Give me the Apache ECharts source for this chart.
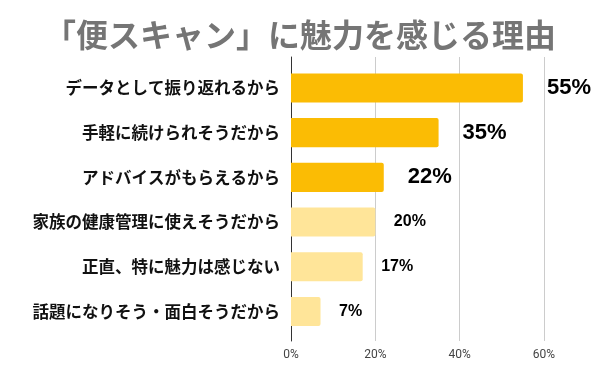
<!DOCTYPE html>
<html>
<head>
<meta charset="utf-8">
<style>html,body{margin:0;padding:0;background:#fff;}#c{width:600px;height:371px;}</style>
<script src="https://cdn.jsdelivr.net/npm/echarts@6/dist/echarts.min.js"></script>
</head>
<body>
<div id="c"></div>
<script>
const titleText = '「便スキャン」に魅力を感じる理由';
const categories = ['データとして振り返れるから','手軽に続けられそうだから','アドバイスがもらえるから','家族の健康管理に使えそうだから','正直、特に魅力は感じない','話題になりそう・面白そうだから'];
const values = [55, 35, 22, 20, 17, 7];
const highlighted = [true, true, true, false, false, false];
const xTicks = [0, 20, 40, 60];

const chart = echarts.init(document.getElementById('c'), null, {renderer:'canvas'});
const dark = '#FBBC04', light = '#FFE599';
const data = values.map((v,i)=>({
  value: v,
  itemStyle: {color: highlighted[i] ? dark : light, borderRadius: [0,2,2,0]},
  label: highlighted[i] ? {fontSize: 22, distance: 24} : {fontSize: 16, distance: 18.5}
}));
chart.setOption({
  animation: false,
  title: {
    text: titleText, left: 'center', top: 14,
    textStyle: {fontFamily: 'Noto Sans CJK JP', fontWeight: 'bold', fontSize: 32, color: '#757575'}
  },
  grid: [
    {left: 291, width: 253, top: 65.6, height: 268.2},
    {left: 291, width: 253, top: 57, height: 284}
  ],
  xAxis: [
    {gridIndex: 0, type: 'value', min: 0, max: 60, interval: 20, show: false},
    {gridIndex: 1, type: 'value', min: 0, max: 60, interval: 20,
     axisLine: {show: false}, axisTick: {show: false},
     splitLine: {show: true, lineStyle: {color: '#cccccc', width: 1}},
     axisLabel: {margin: 8, fontFamily: 'Roboto', fontSize: 12, color: '#444',
       formatter: v => xTicks.includes(v) ? v + '%' : ''}}
  ],
  yAxis: [
    {gridIndex: 0, type: 'category', data: categories, inverse: true,
     axisLine: {show: false}, axisTick: {show: false}, splitLine: {show: false},
     axisLabel: {margin: 11, fontFamily: 'Noto Sans CJK JP', fontWeight: 'bold', fontSize: 16.5, color: '#111'}},
    {gridIndex: 1, type: 'value', min: 0, max: 1,
     axisLine: {show: true, onZero: false, lineStyle: {color: '#333', width: 1}},
     axisTick: {show: false}, axisLabel: {show: false}, splitLine: {show: false}}
  ],
  series: [{
    type: 'bar', xAxisIndex: 0, yAxisIndex: 0, data: data,
    barCategoryGap: '35%',
    label: {show: true, position: 'right', formatter: '{c}%',
      fontFamily: 'Liberation Sans', fontWeight: 'bold', color: '#000'}
  }]
});
</script>
</body>
</html>
